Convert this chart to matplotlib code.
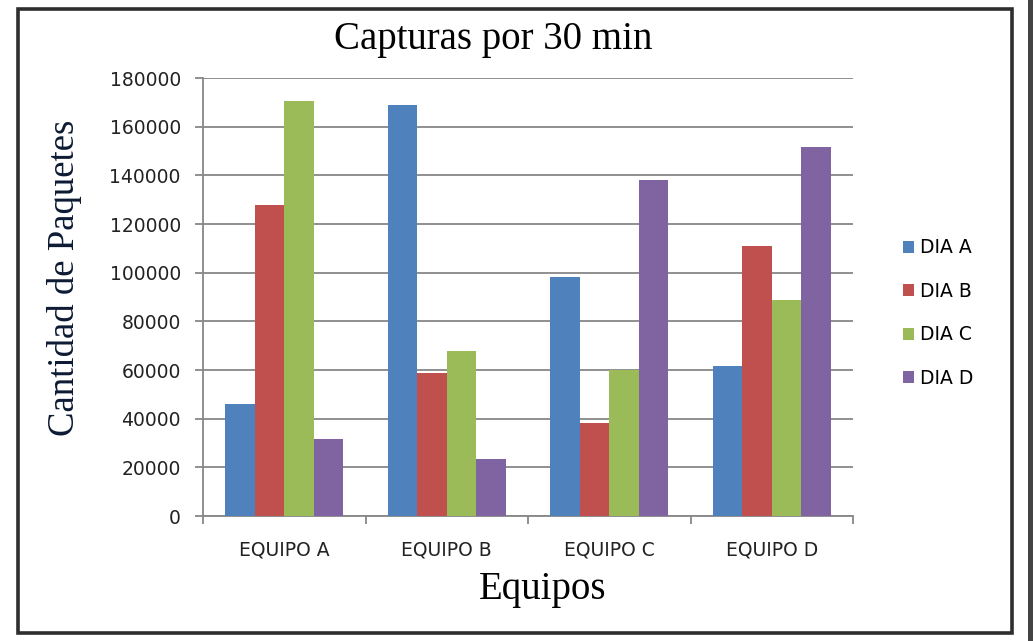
import matplotlib
matplotlib.use("Agg")
import matplotlib.pyplot as plt
from matplotlib.patches import Rectangle
import numpy as np

# data
equipos = ["EQUIPO A", "EQUIPO B", "EQUIPO C", "EQUIPO D"]
dias = ["DIA A", "DIA B", "DIA C", "DIA D"]
dia_a = [46000, 169000, 98300, 61500]
dia_b = [128000, 58700, 38400, 111000]
dia_c = [170500, 68000, 60000, 88700]
dia_d = [31500, 23300, 138000, 151500]
colores = ["#4F81BD", "#C0504D", "#9BBB59", "#8064A2"]

W, H = 1033, 641
fig = plt.figure(figsize=(W / 100, H / 100), dpi=100)
ax = fig.add_axes([203 / W, 1 - 516 / H, 650 / W, 438 / H])

x = np.arange(len(equipos))
bar_w = 1 / 5.5
series = [dia_a, dia_b, dia_c, dia_d]
for i, (vals, col, lab) in enumerate(zip(series, colores, dias)):
    ax.bar(x + (i - 1.5) * bar_w, vals, bar_w, color=col, label=lab, zorder=3)

ax.set_xlim(-0.5, 3.5)
ax.set_ylim(0, 180000)
ax.set_yticks(np.arange(0, 180001, 20000))
ax.yaxis.grid(True, color="#878787", linewidth=1.3, zorder=0)
ax.set_axisbelow(True)

for s in ["top", "right"]:
    ax.spines[s].set_visible(False)
for s in ["left", "bottom"]:
    ax.spines[s].set_color("#878787")
    ax.spines[s].set_linewidth(1.3)

ax.set_xticks(x)
ax.set_xticklabels(equipos)
ax.tick_params(axis="x", length=0, pad=18, labelsize=13.5, colors="#222222")
ax.set_xticks(np.arange(-0.5, 4, 1), minor=True)
ax.tick_params(axis="x", which="minor", length=6, width=1.3, color="#878787")
ax.tick_params(axis="y", length=6, width=1.3, color="#878787", pad=10,
               labelsize=13.5, labelcolor="#222222")

fig.text(493 / W, 1 - 40 / H, "Capturas por 30 min", family="Liberation Serif",
         fontsize=28, ha="center", va="center")
fig.text(65 / W, 1 - 278 / H, "Cantidad de Paquetes", family="Liberation Serif",
         fontsize=26.5, ha="center", va="center", rotation=90, color="#0d1a33")
fig.text(543 / W, 1 - 590 / H, "Equipos", family="Liberation Serif",
         fontsize=28, ha="center", va="center")

fig.legend(loc="center left", bbox_to_anchor=(886 / W, 1 - 313 / H), frameon=False,
           fontsize=13.5, handlelength=0.6, handleheight=0.6, handletextpad=0.3,
           labelspacing=1.3)

# outer frame like the screenshot
fig.patches.append(Rectangle((18 / W, 1 - 633 / H), 994 / W, 624 / H, transform=fig.transFigure,
                             fill=False, edgecolor="#2e2e2e", linewidth=2.6))
fig.patches.append(Rectangle((1028 / W, 0), 5 / W, 1, transform=fig.transFigure,
                             facecolor="#444444", edgecolor="none"))

fig.savefig("out.png", dpi=100)
